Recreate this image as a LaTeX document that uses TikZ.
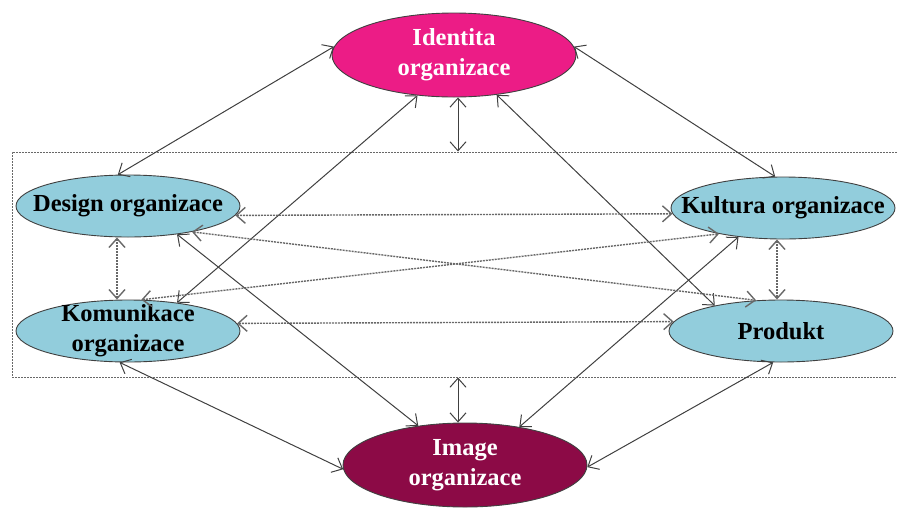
\documentclass[tikz,border=0pt]{standalone}
\usepackage{fontspec}
\setmainfont{Liberation Serif}
\usetikzlibrary{shapes.geometric,arrows.meta}
\definecolor{pinkfill}{HTML}{EC1C86}
\definecolor{maroonfill}{HTML}{8C0A46}
\definecolor{bluefill}{HTML}{92CDDC}
\definecolor{linegray}{HTML}{404040}
\definecolor{dashgray}{HTML}{686868}
\tikzset{
  oval/.style={ellipse, draw=linegray, line width=0.9pt, inner sep=0pt},
  ovaltext/.style={inner sep=0pt, align=center, font=\bfseries\fontsize{24.5}{30}\selectfont},
  bigoval/.style={oval, minimum width=244pt, minimum height=84pt},
  smalloval/.style={oval, minimum width=224pt, minimum height=62pt, fill=bluefill},
  link/.style={draw=linegray, line width=1pt, {Straight Barb[length=9pt,width=16pt]}-{Straight Barb[length=9pt,width=16pt]}},
  dlink/.style={draw=dashgray, line width=1.4pt, dash pattern=on 2pt off 1pt, {Straight Barb[length=9pt,width=16pt]}-{Straight Barb[length=9pt,width=16pt]}},
  frame/.style={draw=dashgray, line width=1pt, dash pattern=on 2pt off 1pt, inner sep=0pt},
}
\begin{document}
\begin{tikzpicture}[x=1pt,y=-1pt]
\useasboundingbox (0,0) rectangle (897,507);
\node[frame, minimum width=888pt, minimum height=225pt] (box) at (456,264.5) {};
\node[bigoval, fill=pinkfill, label={[ovaltext, text=white]center:Identita\\organizace}] (id) at (454,55) {};
\node[bigoval, fill=maroonfill, label={[ovaltext, text=white]center:Image\\organizace}] (img) at (465,465) {};
\node[smalloval, label={[ovaltext]center:Design organizace}] (des) at (128,206) {};
\node[smalloval, label={[ovaltext]center:Komunikace\\organizace}] (kom) at (128,331) {};
\node[smalloval, label={[ovaltext]center:Kultura organizace}] (kul) at (783,208) {};
\node[smalloval, label={[ovaltext]center:Produkt}] (pro) at (781,331) {};
% solid connectors
\draw[link] (id.176) -- (des.108);
\draw[link] (id.4) -- (kul.104);
\draw[link] ([xshift=4pt]id.south) -- ([xshift=4pt]id.south |- box.north);
\draw[link] (id.228) -- (kom.30);
\draw[link] (id.317) -- (pro.159);
\draw[link] (des.330) -- (img.140);
\draw[link] (kul.213) -- (img.35);
\draw[link] (kom.255) -- (img.182);
\draw[link] (pro.256) -- (img.359);
\draw[link] ([xshift=-7pt]img.north |- box.south) -- ([xshift=-7pt]img.north);
% dashed connectors
\draw[dlink] (des.355.4) -- (kul.183.6);
\draw[dlink] (kom.4.6) -- (pro.175.4);
\draw[dlink] (des.338) -- (pro.129);
\draw[dlink] (kom.67) -- (kul.202.5);
\draw[dlink] ([xshift=-11pt]des.south) -- ([xshift=-11pt]kom.north);
\draw[dlink] ([xshift=-6pt]kul.south) -- ([xshift=-4pt]pro.north);
\end{tikzpicture}
\end{document}
